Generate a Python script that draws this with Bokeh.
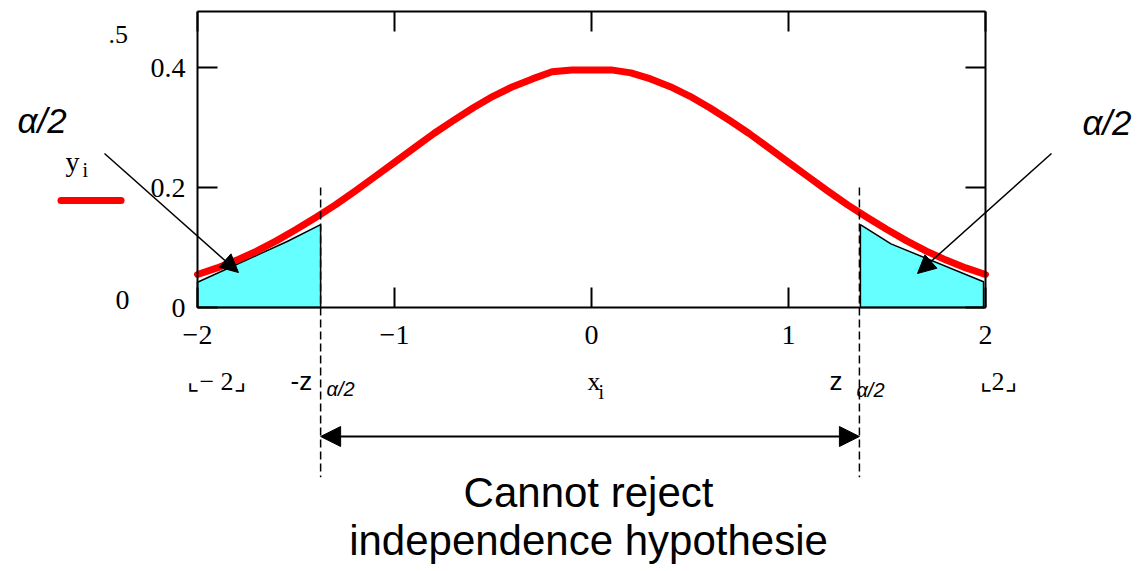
from bokeh.plotting import figure
from bokeh.models import Range1d, FixedTicker, LinearAxis, Label, Arrow, NormalHead
from bokeh.embed import file_html
from bokeh.resources import INLINE

# ---- data ----
x_vals = [-2.0, -1.9, -1.8, -1.7, -1.6, -1.5, -1.4, -1.3, -1.2, -1.1, -1.0,
          -0.9, -0.8, -0.7, -0.6, -0.5, -0.4, -0.3, -0.2, -0.1, 0.0,
          0.1, 0.2, 0.3, 0.4, 0.5, 0.6, 0.7, 0.8, 0.9, 1.0,
          1.1, 1.2, 1.3, 1.4, 1.5, 1.6, 1.7, 1.8, 1.9, 2.0]
y_vals = [0.055, 0.066, 0.079, 0.094, 0.111, 0.130, 0.150, 0.171, 0.194, 0.218, 0.242,
          0.266, 0.290, 0.312, 0.333, 0.352, 0.368, 0.381, 0.393, 0.396, 0.396,
          0.396, 0.391, 0.381, 0.368, 0.352, 0.333, 0.312, 0.290, 0.266, 0.242,
          0.218, 0.194, 0.171, 0.150, 0.130, 0.111, 0.094, 0.079, 0.066, 0.055]

left_tail_x = [-2.0, -2.0, -1.545, -1.375, -1.375]
left_tail_y = [0.0, 0.042, 0.110, 0.138, 0.0]
right_tail_x = [1.365, 1.365, 1.52, 1.99, 1.99]
right_tail_y = [0.0, 0.138, 0.106, 0.043, 0.0]

z_left = -1.375
z_right = 1.36

x_min, x_max = -2.0, 2.0
y_min, y_max = 0.0, 0.4933

x_ticks = [-2, -1, 0, 1, 2]
x_tick_labels = ["\u22122", "\u22121", "0", "1", "2"]
y_ticks = [0, 0.2, 0.4]
y_tick_labels = ["0", "0.2", "0.4"]

SERIF = "Liberation Serif"
SANS = "Liberation Sans"

W, H = 1144, 571
# the frame covers the whole canvas so that annotations outside the box are not clipped
p = figure(width=W, height=H, x_range=Range1d(-3.0, 2.8071), y_range=Range1d(-0.44, 0.51167),
           output_backend="svg", toolbar_location=None,
           x_axis_location=None, y_axis_location=None,
           min_border=0)
p.grid.grid_line_color = None
p.outline_line_color = None
p.background_fill_color = "white"
p.border_fill_color = "white"


def style_axis(ax, show_labels):
    ax.axis_line_color = "black"
    ax.axis_line_width = 2
    ax.major_tick_in = 20
    ax.major_tick_out = 0
    ax.major_tick_line_color = "black"
    ax.major_tick_line_width = 2
    ax.minor_tick_line_color = None
    if show_labels:
        ax.major_label_text_font = SERIF
        ax.major_label_text_font_size = "28px"
        ax.major_label_text_color = "black"
    else:
        ax.major_label_text_font_size = "1px"
        ax.major_label_text_alpha = 0
        ax.major_label_standoff = 0


xb = LinearAxis(ticker=FixedTicker(ticks=x_ticks), fixed_location=y_min, bounds=(x_min, x_max),
                major_label_overrides={t: s for t, s in zip(x_ticks, x_tick_labels)})
style_axis(xb, True)
xb.major_label_standoff = 18
p.add_layout(xb, "below")

yl = LinearAxis(ticker=FixedTicker(ticks=y_ticks), fixed_location=x_min, bounds=(y_min, y_max),
                major_label_overrides={t: s for t, s in zip(y_ticks, y_tick_labels)})
style_axis(yl, True)
yl.major_label_standoff = 12
p.add_layout(yl, "left")

xt = LinearAxis(ticker=FixedTicker(ticks=x_ticks), fixed_location=y_max, bounds=(x_min, x_max))
style_axis(xt, False)
p.add_layout(xt, "above")

yr = LinearAxis(ticker=FixedTicker(ticks=y_ticks), fixed_location=x_max, bounds=(y_min, y_max))
style_axis(yr, False)
p.add_layout(yr, "right")

# tails
p.patch(left_tail_x, left_tail_y, fill_color="#66FFFF", line_color="black", line_width=1.5)
p.patch(right_tail_x, right_tail_y, fill_color="#66FFFF", line_color="black", line_width=1.5)

# density curve
p.line(x_vals, y_vals, line_color="#FF0000", line_width=7, line_join="round", line_cap="round")

# dashed critical lines
for zx in (z_left, z_right):
    p.add_layout(Arrow(end=None, start=None, x_start=zx, y_start=0.2, x_end=zx, y_end=-0.283,
                       line_color="black", line_width=1.5, line_dash="8 4"))

# double arrow
p.add_layout(Arrow(start=NormalHead(size=20, fill_color="black", line_color="black"),
                   end=NormalHead(size=20, fill_color="black", line_color="black"),
                   x_start=z_left, y_start=-0.215, x_end=z_right, y_end=-0.215,
                   line_color="black", line_width=2))

# pointer arrows
p.add_layout(Arrow(end=NormalHead(size=18, fill_color="black", line_color="black"),
                   x_start=-2.472, y_start=0.2567, x_end=-1.792, y_end=0.0583,
                   line_color="black", line_width=1.5))
p.add_layout(Arrow(end=NormalHead(size=18, fill_color="black", line_color="black"),
                   x_start=2.335, y_start=0.2567, x_end=1.655, y_end=0.0567,
                   line_color="black", line_width=1.5))

# legend line sample
p.add_layout(Arrow(end=None, start=None, x_start=-2.693, y_start=0.1783, x_end=-2.388, y_end=0.1783,
                   line_color="#FF0000", line_width=7, line_cap="round"))


def lab(x, y, text, font, size, align="left", baseline="alphabetic", style="normal"):
    p.add_layout(Label(x=x, y=y, text=text, text_font=font, text_font_size=size,
                       text_align=align, text_baseline=baseline, text_font_style=style,
                       text_color="black"))


lab(-2.452, 0.455, ".5", SERIF, "26px")
lab(-2.416, 0.0133, "0", SERIF, "28px")
lab(-2.670, 0.2433, "y", SERIF, "28px")
lab(-2.584, 0.230, "i", SERIF, "20px")
lab(-2.051, -0.1233, "\u231e\u2212 2\u231f", SERIF, "26px")
lab(1.970, -0.1233, "\u231e2\u231f", SERIF, "26px")
lab(-0.0203, -0.1233, "x", SERIF, "26px")
lab(0.0355, -0.14, "i", SERIF, "20px")

lab(-2.914, 0.3117, "\u03b1/2", SANS, "35px", style="italic")
lab(2.492, 0.3083, "\u03b1/2", SANS, "35px", style="italic")
lab(-1.528, -0.1233, "-z", SANS, "26px")
lab(-1.345, -0.1356, "\u03b1/2", SANS, "20px", style="italic")
lab(1.208, -0.1233, "z", SANS, "26px")
lab(1.345, -0.1383, "\u03b1/2", SANS, "20px", style="italic")

lab(-0.0152, -0.3083, "Cannot reject", SANS, "42px", align="center")
lab(-0.0152, -0.3883, "independence hypothesie", SANS, "42px", align="center")

open("out.html", "w").write(file_html(p, INLINE))
